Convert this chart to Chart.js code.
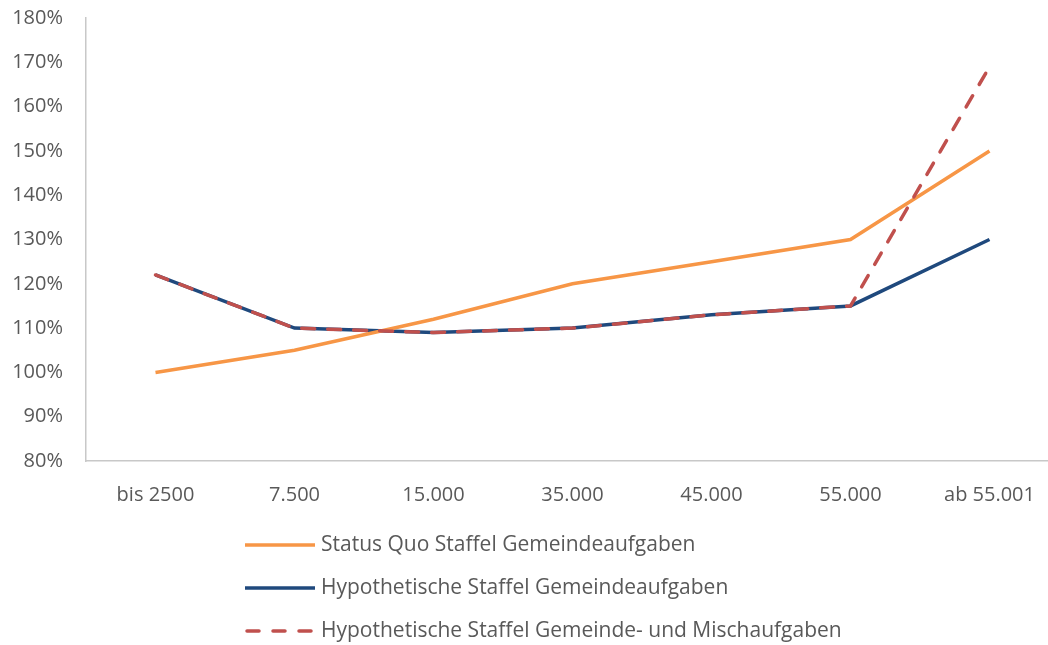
<!DOCTYPE html>
<html>
<head>
<meta charset="utf-8">
<script src="https://cdn.jsdelivr.net/npm/chart.js@4/dist/chart.umd.min.js"></script>
<style>
  html, body { margin: 0; padding: 0; overflow: hidden; background: #fff; }
  #wrap { width: 1059px; height: 645px; position: relative; }
</style>
</head>
<body>
<div id="wrap"><canvas id="staffelCanvas"></canvas></div>
<script>
const categories = ["bis 2500", "7.500", "15.000", "35.000", "45.000", "55.000", "ab 55.001"];

const statusQuo = [100, 105, 112, 120, 125, 130, 150];
const hypoGemeinde = [122, 110, 109, 110, 113, 115, 130];
const hypoMisch = [122, 110, 109, 110, 113, 115, 169];

const seriesNames = [
  "Status Quo Staffel Gemeindeaufgaben",
  "Hypothetische Staffel Gemeindeaufgaben",
  "Hypothetische Staffel Gemeinde- und Mischaufgaben"
];

const textColor = "#595959";
const fontFamily = "'Open Sans', sans-serif";

// legend drawn as a vertical list under the axis
const stackedLegend = {
  id: "stackedLegend",
  afterDraw(chart) {
    const ctx = chart.ctx;
    const startX = 245, lineLen = 70, firstY = 545, step = 43;
    ctx.save();
    ctx.font = "21px " + fontFamily;
    ctx.textBaseline = "middle";
    ctx.textAlign = "left";
    chart.data.datasets.forEach((ds, i) => {
      const y = firstY + i * step;
      ctx.strokeStyle = ds.borderColor;
      ctx.lineWidth = 3.5;
      ctx.lineCap = ds.borderDash ? "round" : "butt";
      ctx.setLineDash(ds.borderDash ? [12, 14] : []);
      ctx.beginPath();
      ctx.moveTo(startX + (ds.borderDash ? 2 : 0), y);
      ctx.lineTo(startX + lineLen, y);
      ctx.stroke();
      ctx.setLineDash([]);
      ctx.fillStyle = textColor;
      ctx.fillText(ds.label, startX + lineLen + 6, y);
    });
    ctx.restore();
  }
};

new Chart(document.getElementById("staffelCanvas"), {
  type: "line",
  data: {
    labels: categories,
    datasets: [
      {
        label: seriesNames[0],
        data: statusQuo,
        borderColor: "#F79646",
        borderWidth: 3.5,
        pointRadius: 0,
        order: 1
      },
      {
        label: seriesNames[1],
        data: hypoGemeinde,
        borderColor: "#1F497D",
        borderWidth: 3.5,
        pointRadius: 0,
        order: 2
      },
      {
        label: seriesNames[2],
        data: hypoMisch,
        borderColor: "#C0504D",
        borderWidth: 3.5,
        borderDash: [13, 13],
        borderCapStyle: "round",
        pointRadius: 0,
        order: 0
      }
    ]
  },
  options: {
    responsive: true,
    maintainAspectRatio: false,
    animation: false,
    layout: { padding: { top: 18, right: 0, left: 0, bottom: 0 } },
    plugins: {
      legend: { display: false },
      tooltip: { enabled: false }
    },
    scales: {
      x: {
        offset: true,
        grid: { display: false },
        border: { display: true, color: "#c8c8c8", width: 1.5 },
        ticks: {
          color: textColor,
          font: { family: fontFamily, size: 20 },
          padding: 14,
          maxRotation: 0,
          autoSkip: false
        },
        afterFit(scale) { scale.height = 184; }
      },
      y: {
        min: 80,
        max: 180,
        grid: { display: false },
        border: { display: true, color: "#c8c8c8", width: 1.5 },
        ticks: {
          stepSize: 10,
          color: textColor,
          font: { family: fontFamily, size: 20 },
          padding: 15,
          callback: v => v + "%"
        },
        afterFit(scale) {
          scale.width = 86;
          scale.paddingTop = 0;
          scale.paddingBottom = 0;
        }
      }
    }
  },
  plugins: [stackedLegend]
});
</script>
</body>
</html>
